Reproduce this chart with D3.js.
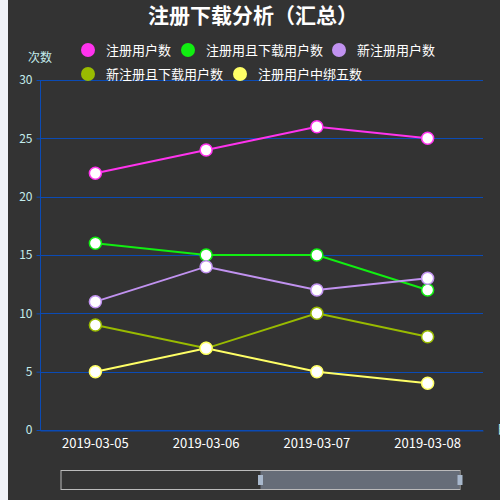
<!DOCTYPE html>
<html>
<head>
<meta charset="utf-8">
<script src="https://cdn.jsdelivr.net/npm/d3@7"></script>
<style>
  body { margin: 0; background: #f0f2f8; }
  svg { display: block; }
</style>
</head>
<body>
<div class="line-chart"></div>
<script>
var dates = ["2019-03-05", "2019-03-06", "2019-03-07", "2019-03-08"];
var seriesNames = ["注册用户数", "注册用且下载用户数", "新注册用户数", "新注册且下载用户数", "注册用户中绑五数"];
var regUsers = [22, 24, 26, 25];
var regDownload = [16, 15, 15, 12];
var newUsers = [11, 14, 12, 13];
var newDownload = [9, 7, 10, 8];
var regBind = [5, 7, 5, 4];
var yTicks = [0, 5, 10, 15, 20, 25, 30];

var colors = ["#ff33ee", "#11ee11", "#c192f0", "#99bb00", "#ffff66"];
var allSeries = [regUsers, regDownload, newUsers, newDownload, regBind];

var width = 500;
var height = 500;
var margin = {top: 80, right: 17, bottom: 70, left: 40};
var font = "'Noto Sans CJK SC', sans-serif";

var svg = d3.select(".line-chart")
            .append("svg")
              .attr("width", width)
              .attr("height", height);

// dark panel, leaving a light strip on the left
svg.append("rect")
   .attr("x", 8).attr("y", 0)
   .attr("width", width - 8).attr("height", height)
   .attr("fill", "#333333");

var x = d3.scaleBand()
          .domain(dates)
          .range([margin.left, width - margin.right]);

var y = d3.scaleLinear()
          .domain([0, 30])
          .range([height - margin.bottom, margin.top]);

// grid lines
svg.selectAll("line.grid")
   .data(yTicks)
   .enter()
   .append("line")
    .attr("class", "grid")
    .attr("x1", margin.left)
    .attr("x2", width - margin.right)
    .attr("y1", function(d) { return Math.round(y(d)) + 0.5; })
    .attr("y2", function(d) { return Math.round(y(d)) + 0.5; })
    .attr("stroke", "#0b4bb5")
    .attr("stroke-width", 1);

// y axis
var yAxis = svg.append("g")
   .attr("transform", "translate(" + (margin.left + 0.5) + ",0)")
   .call(d3.axisLeft(y).tickValues(yTicks).tickSize(4).tickPadding(4));
yAxis.select(".domain").attr("stroke", "#0b4bb5").attr("d", "M0," + y(0) + "V" + y(30));
yAxis.selectAll(".tick line").attr("stroke", "#0b4bb5");
yAxis.selectAll("text")
     .attr("fill", "#c4ecec")
     .attr("font-family", font)
     .attr("font-size", "12px");

// x axis
var xAxis = svg.append("g")
   .attr("transform", "translate(0," + (Math.round(y(0)) + 0.5) + ")")
   .call(d3.axisBottom(x).tickSize(0).tickPadding(8));
xAxis.select(".domain").attr("stroke", "#0b4bb5");
xAxis.selectAll("text")
     .attr("fill", "#ffffff")
     .attr("font-family", font)
     .attr("font-size", "13px");

// axis names
svg.append("text")
   .text("次数")
   .attr("x", 40).attr("y", 62)
   .attr("text-anchor", "middle")
   .attr("fill", "#c4ecec")
   .attr("font-family", font)
   .attr("font-size", "12px");

svg.append("text")
   .text("日期")
   .attr("x", 497).attr("y", y(0) + 4)
   .attr("fill", "#c4ecec")
   .attr("font-family", font)
   .attr("font-size", "12px");

// title
svg.append("text")
   .text("注册下载分析（汇总）")
   .attr("x", 253).attr("y", 23)
   .attr("text-anchor", "middle")
   .attr("fill", "#ffffff")
   .attr("font-family", font)
   .attr("font-weight", "bold")
   .attr("font-size", "21px");

// lines and points
var line = d3.line()
             .x(function(d, i) { return x(dates[i]) + x.bandwidth() / 2; })
             .y(function(d) { return y(d); });

allSeries.forEach(function(values, k) {
  svg.append("path")
     .datum(values)
     .attr("d", line)
     .attr("fill", "none")
     .attr("stroke", colors[k])
     .attr("stroke-width", 2);
});

allSeries.forEach(function(values, k) {
  svg.selectAll("circle.s" + k)
     .data(values)
     .enter()
     .append("circle")
      .attr("class", "s" + k)
      .attr("cx", function(d, i) { return x(dates[i]) + x.bandwidth() / 2; })
      .attr("cy", function(d) { return y(d); })
      .attr("r", 6)
      .attr("fill", "#ffffff")
      .attr("stroke", colors[k])
      .attr("stroke-width", 1.5);
});

// legend
var legendPos = [[88, 50], [188, 50], [339, 50], [88, 74], [240, 74]];
var legend = svg.selectAll("g.legend")
   .data(seriesNames)
   .enter()
   .append("g")
    .attr("class", "legend")
    .attr("transform", function(d, i) { return "translate(" + legendPos[i][0] + "," + legendPos[i][1] + ")"; });

legend.append("circle")
   .attr("r", 7)
   .attr("fill", function(d, i) { return colors[i]; });

legend.append("text")
   .text(function(d) { return d; })
   .attr("x", 18)
   .attr("y", 4.5)
   .attr("fill", "#ffffff")
   .attr("font-family", font)
   .attr("font-size", "13px");

// data zoom slider
svg.append("rect")
   .attr("x", 61).attr("y", 470.5)
   .attr("width", 399).attr("height", 19)
   .attr("fill", "none")
   .attr("stroke", "#bbbbbb");

svg.append("rect")
   .attr("x", 260.5).attr("y", 471)
   .attr("width", 199).attr("height", 18)
   .attr("fill", "#666d78");

[260.5, 460].forEach(function(hx) {
  svg.append("rect")
     .attr("x", hx - 2.5).attr("y", 475)
     .attr("width", 5).attr("height", 10)
     .attr("fill", "#a8b8cc");
});
</script>
</body>
</html>
